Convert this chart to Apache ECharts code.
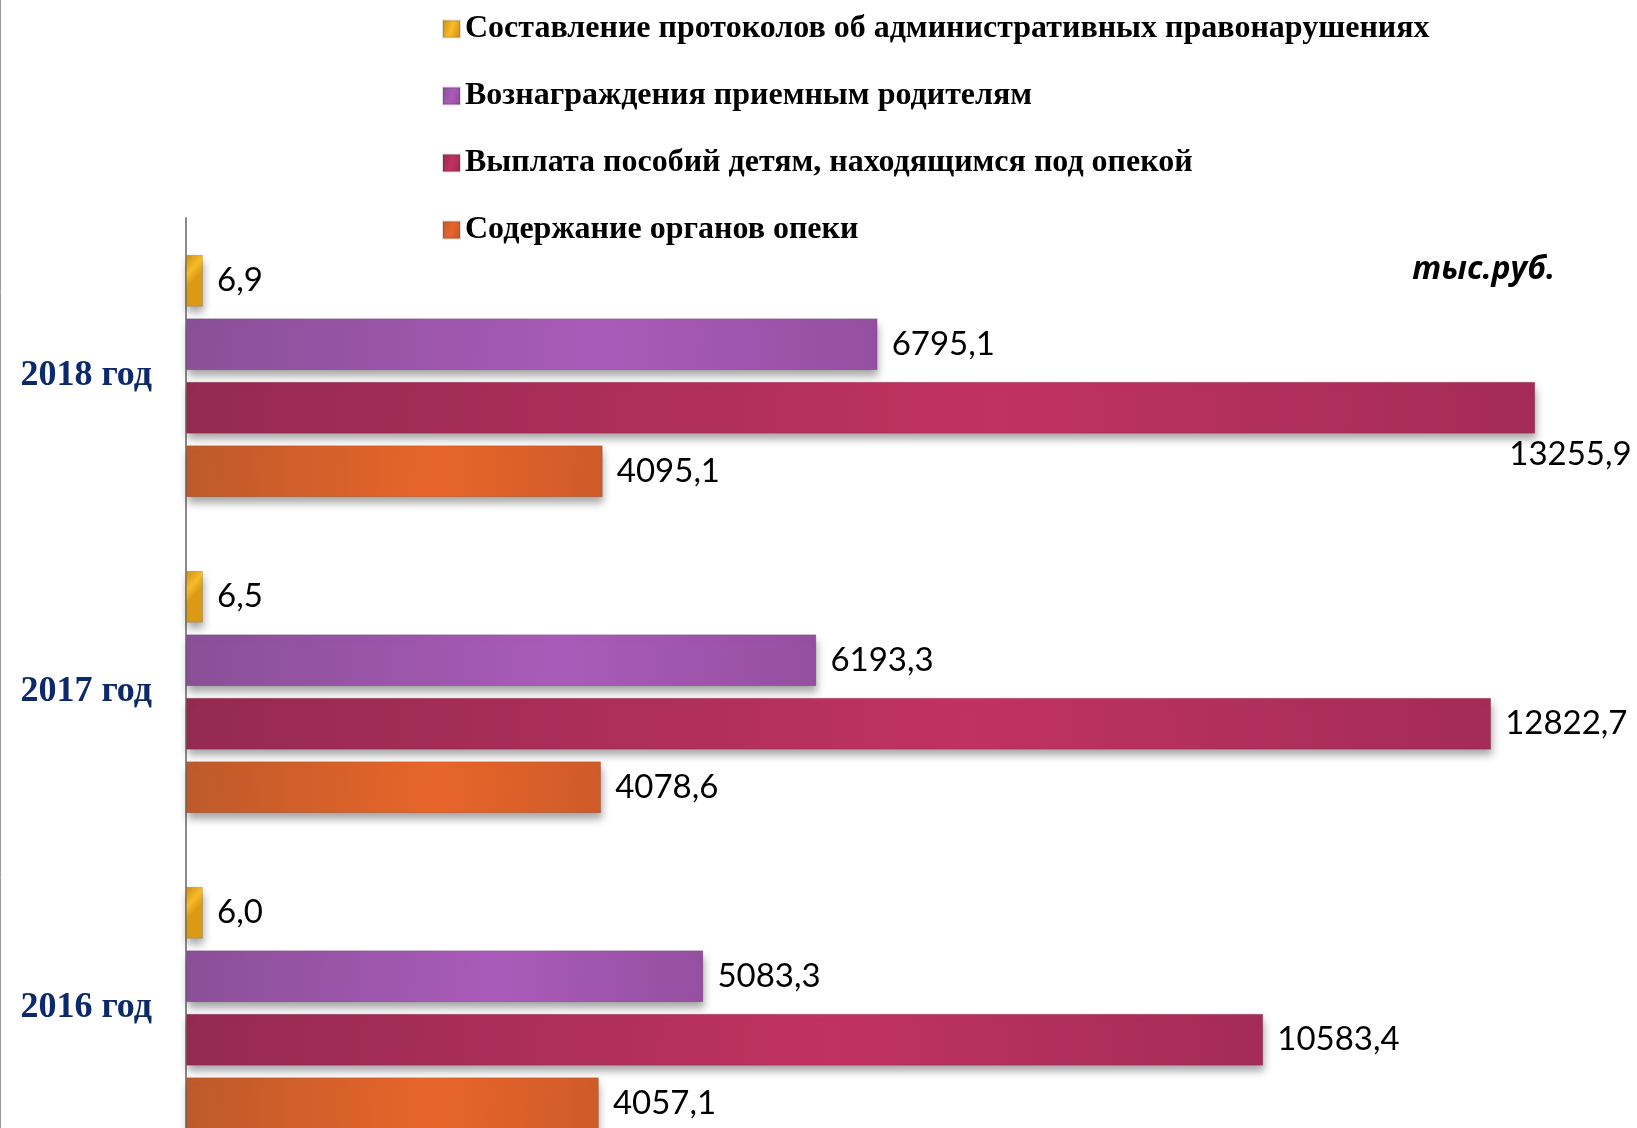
<!DOCTYPE html>
<html>
<head>
<meta charset="utf-8">
<script src="https://cdn.jsdelivr.net/npm/echarts@6/dist/echarts.min.js"></script>
<style>
html,body{margin:0;padding:0;background:#fff;overflow:hidden;width:1637px;height:1128px;}
#chart{width:1637px;height:1170px;}
</style>
</head>
<body>
<div id="chart"></div>
<script>
const categories = ['2016 год', '2017 год', '2018 год'];
const seriesNames = [
  'Составление протоколов об административных правонарушениях',
  'Вознаграждения приемным родителям',
  'Выплата пособий детям, находящимся под опекой',
  'Содержание органов опеки'
];
const protocols = [6.0, 6.5, 6.9];
const rewards = [5083.3, 6193.3, 6795.1];
const benefits = [10583.4, 12822.7, 13255.9];
const maintenance = [4057.1, 4078.6, 4095.1];
const unitLabel = 'тыс.руб.';

function grad(c0, c1, c2) {
  return new echarts.graphic.LinearGradient(0, 0, 1, 0.3, [
    {offset: 0, color: c0}, {offset: 0.6, color: c1}, {offset: 1, color: c2}
  ]);
}
const fills = [
  grad('#c98f12', '#f7bc2a', '#d99a16'),
  grad('#8a4f97', '#a95bb9', '#954fa0'),
  grad('#952a50', '#c03261', '#a32c56'),
  grad('#bd5a2b', '#e8652a', '#cf5b29')
];
const legendColors = ['#e3a51c', '#9c56ad', '#a82d58', '#d95e2a'];
const fmt = v => Number(v).toFixed(1).replace('.', ',');

const labelBase = {
  show: true, position: 'right', distance: 14,
  fontFamily: 'Lato', fontSize: 33, color: '#000',
  formatter: p => fmt(p.value)
};

function makeSeries(i, values, extra) {
  return Object.assign({
    name: seriesNames[i],
    type: 'bar',
    barWidth: 52,
    barGap: '22%',
    color: legendColors[i],
    itemStyle: {
      color: fills[i],
      shadowColor: 'rgba(0,0,0,0.35)', shadowBlur: 8, shadowOffsetY: 6, shadowOffsetX: 1,
      borderColor: 'rgba(0,0,0,0.12)', borderWidth: 1
    },
    label: labelBase,
    data: values.slice()
  }, extra || {});
}

const benefitsData = benefits.map((v, idx) => idx === 2
  ? {value: v, label: {offset: [-40, 47]}} : v);

const option = {
  animation: false,
  backgroundColor: '#fff',
  legend: {
    orient: 'vertical',
    left: 437, top: 6,
    itemWidth: 17, itemHeight: 17,
    itemGap: 31,
    icon: 'rect',
    data: seriesNames,
    textStyle: {fontFamily: 'Liberation Serif', fontWeight: 'bold', fontSize: 32, color: '#000', lineHeight: 36}
  },
  grid: {left: 186, top: 218, width: 1425, height: 948, containLabel: false},
  xAxis: {type: 'value', min: 0, max: 14000, show: false},
  yAxis: {
    type: 'category', data: categories,
    axisLine: {show: true, lineStyle: {color: '#8c8c8c', width: 2}},
    axisTick: {show: false},
    axisLabel: {margin: 34, fontFamily: 'Liberation Serif', fontWeight: 'bold', fontSize: 36, color: '#0c2a6b'}
  },
  series: [
    makeSeries(0, protocols, {barMinHeight: 17}),
    makeSeries(1, rewards),
    Object.assign(makeSeries(2, benefits), {data: benefitsData}),
    makeSeries(3, maintenance)
  ],
  graphic: [
    {type: 'line', shape: {x1: 0.5, y1: 0, x2: 0.5, y2: 1170}, style: {stroke: '#9a9a9a', lineWidth: 1}},
    {type: 'text', x: 1555, y: 270, style: {text: unitLabel, font: 'italic bold 32px "Open Sans"', fill: '#000', textAlign: 'right', textVerticalAlign: 'middle'}}
  ]
};
const chart = echarts.init(document.getElementById('chart'));
chart.setOption(option);
</script>
</body>
</html>
